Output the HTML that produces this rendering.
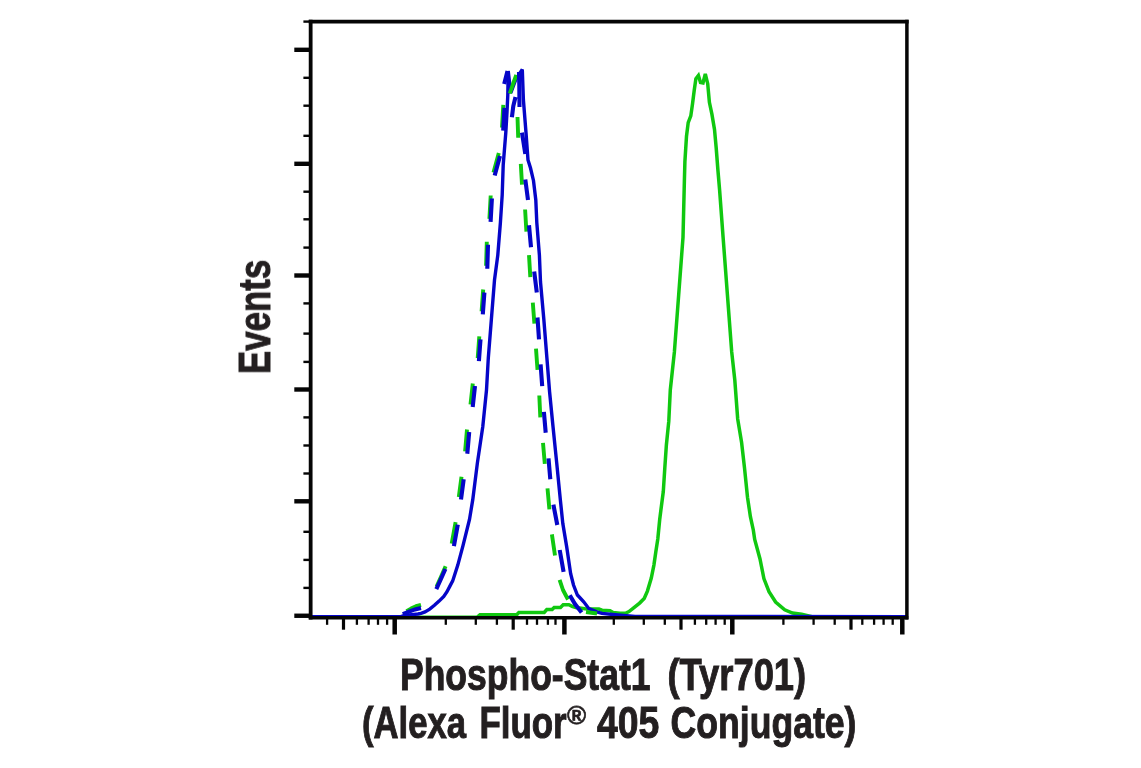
<!DOCTYPE html>
<html><head><meta charset="utf-8">
<style>
html,body{margin:0;padding:0;background:#fff;}
body{width:1141px;height:768px;overflow:hidden;position:relative;}
svg{position:absolute;left:0;top:0;}
.lbl{font-family:"Liberation Sans",sans-serif;font-weight:bold;fill:#231f20;}
</style></head><body>
<svg width="1141" height="768" viewBox="0 0 1141 768">
<path d="M310.0,617.3 L477.0,617.3 L480.0,614.7 L516.8,614.7 L518.9,612.4 L544.2,612.4 L546.8,609.5 L552.1,609.5 L554.2,607.4 L560.5,607.4 L563.2,604.8 L568.9,604.7 L572.1,606.3 L575.8,607.6 L585.0,608.8 L594.7,608.9 L598.9,608.9 L602.0,610.2 L610.0,610.8 L613.1,612.6 L620.0,613.3 L625.5,613.2 L629.0,611.5 L634.3,607.3 L639.6,603.1 L644.2,598.5 L647.4,591.1 L651.3,578.1 L653.9,565.1 L655.8,552.0 L657.8,539.0 L659.7,519.5 L660.9,510.0 L663.3,491.6 L664.8,468.1 L666.4,444.7 L668.8,421.2 L670.3,390.0 L674.4,351.9 L678.7,294.6 L683.0,237.3 L684.4,180.0 L684.9,161.6 L686.5,136.2 L688.2,122.6 L690.8,115.9 L692.5,104.0 L694.2,90.5 L695.9,78.6 L698.4,75.5 L700.5,82.5 L703.0,83.0 L705.3,74.0 L707.7,83.7 L709.4,102.3 L711.9,114.2 L714.5,129.4 L716.2,148.0 L717.9,170.0 L719.6,190.0 L723.1,237.3 L727.4,294.6 L731.7,351.9 L734.8,380.0 L737.7,419.0 L741.6,442.5 L744.5,467.9 L747.5,497.2 L750.4,516.7 L753.3,530.0 L754.7,539.5 L760.0,559.0 L763.9,578.6 L769.0,591.6 L775.6,602.0 L784.7,609.8 L792.5,613.1 L801.6,614.2 L812.0,616.8 L906.0,617.3" fill="none" stroke="#10c810" stroke-width="3.5" stroke-linejoin="miter" stroke-miterlimit="2.6"/>
<path d="M310.0,616.6 L401.0,616.6 L405.0,615.2 L412.0,614.6 L418.0,614.0 L421.0,613.3 L425.0,611.9 L429.7,609.1 L434.4,605.3 L439.1,601.1 L443.8,596.4 L447.0,591.7 L449.9,586.1 L452.7,580.9 L457.8,565.1 L463.0,545.6 L469.5,519.5 L472.8,499.4 L477.4,462.9 L482.8,426.5 L486.5,390.0 L488.3,358.0 L491.4,319.0 L494.5,280.0 L497.8,255.1 L500.4,222.6 L502.2,195.0 L503.2,165.1 L505.8,132.6 L507.0,112.0 L507.8,95.0 L508.2,71.0 L510.8,93.0 L516.0,79.0 L522.3,69.5 L523.4,100.0 L526.0,132.6 L528.0,160.0 L530.5,168.0 L533.5,180.7 L535.8,200.0 L536.8,222.6 L539.4,255.1 L540.5,282.0 L543.8,319.0 L546.9,358.0 L549.6,392.0 L553.0,426.5 L556.7,462.9 L560.3,499.4 L562.8,523.4 L566.7,546.9 L570.6,573.4 L573.5,585.0 L577.4,595.0 L583.7,601.8 L588.9,608.7 L596.8,611.8 L602.0,613.4 L615.2,614.8 L635.0,616.5 L906.0,616.6" fill="none" stroke="#0505c8" stroke-width="3.4" stroke-linejoin="miter" stroke-miterlimit="3"/>
<path d="M406.5,611.2 L411.0,608.6 L416.0,606.2 L421.0,604.8 M436.6,586.5 L440.8,577.3 L445.6,566.3 M451.7,543.7 L455.6,522.2 M458.8,496.9 L461.5,476.8 M465.1,451.3 L467.0,429.5 M470.5,404.5 L472.8,383.5 M477.7,358.2 L479.3,336.4 M481.6,311.4 L483.2,289.5 M486.1,265.8 L486.8,241.7 M489.4,218.9 L490.7,195.5 M493.5,172.5 L498.8,153.0 M502.0,127.6 L503.3,104.8 M509.8,93.5 L513.0,84.0 L516.3,75.0 M517.5,117.0 L518.2,137.8 M520.8,163.8 L522.0,184.6 M525.1,209.5 L526.4,231.7 M529.0,255.1 L530.3,277.2 M532.8,302.7 L534.4,323.7 M536.0,348.7 L537.5,369.8 M539.3,395.5 L540.3,417.3 M543.0,442.9 L544.8,463.8 M547.5,488.4 L549.4,509.4 M551.9,534.4 L555.0,555.5 M559.6,579.8 L563.0,590.0 L568.0,599.5 M586.0,612.0 L597.0,613.5" fill="none" stroke="#10c810" stroke-width="3.9" stroke-linejoin="round"/>
<path d="M402.8,614.2 L409.0,611.6 L415.0,609.4 L421.0,608.0 M436.3,589.2 L440.5,580.0 L445.4,569.0 M453.9,546.2 L457.8,524.7 M461.0,499.4 L463.7,479.3 M467.3,453.8 L469.2,432.0 M472.7,407.0 L475.0,386.0 M478.9,361.2 L480.5,339.4 M482.8,314.4 L484.4,292.5 M487.3,268.8 L488.0,244.7 M490.6,221.9 L491.9,198.5 M494.7,175.5 L500.0,156.0 M503.2,130.6 L504.5,107.8 M504.2,84.0 L507.5,71.0 M511.9,117.2 L513.3,106.0 L515.5,97.0 M519.0,72.0 L519.3,85.0 L519.5,107.0 M522.0,132.6 L525.3,154.0 M525.3,179.4 L528.0,200.0 M529.0,225.2 L531.0,247.3 M534.2,271.4 L536.8,292.5 M537.5,317.5 L539.0,339.4 M540.6,364.4 L542.2,386.2 M543.9,411.9 L545.7,432.8 M548.5,458.4 L550.3,479.3 M553.4,504.7 L557.3,525.0 M559.7,550.0 L563.6,571.9 M569.8,595.3 L575.0,604.0 L581.6,612.5" fill="none" stroke="#0505c8" stroke-width="4.1" stroke-linejoin="miter"/>
<line x1="308.8" y1="21.65" x2="908.6" y2="21.65" stroke="#050505" stroke-width="3.7"/>
<line x1="303.4" y1="21.6" x2="310" y2="21.6" stroke="#050505" stroke-width="2.4"/>
<line x1="310.65" y1="19.8" x2="310.65" y2="619.5" stroke="#050505" stroke-width="3.8"/>
<line x1="906.9" y1="19.8" x2="906.9" y2="619.5" stroke="#050505" stroke-width="3.5"/>
<line x1="308.75" y1="617.7" x2="908.3" y2="617.7" stroke="#050505" stroke-width="3.6"/>
<line x1="294.3" y1="49.80" x2="310" y2="49.80" stroke="#050505" stroke-width="4.4"/>
<line x1="303.4" y1="77.80" x2="310" y2="77.80" stroke="#050505" stroke-width="2.4"/>
<line x1="303.4" y1="105.70" x2="310" y2="105.70" stroke="#050505" stroke-width="2.4"/>
<line x1="303.4" y1="135.80" x2="310" y2="135.80" stroke="#050505" stroke-width="2.4"/>
<line x1="294.3" y1="163.80" x2="310" y2="163.80" stroke="#050505" stroke-width="4.4"/>
<line x1="303.4" y1="191.70" x2="310" y2="191.70" stroke="#050505" stroke-width="2.4"/>
<line x1="303.4" y1="219.30" x2="310" y2="219.30" stroke="#050505" stroke-width="2.4"/>
<line x1="303.4" y1="247.60" x2="310" y2="247.60" stroke="#050505" stroke-width="2.4"/>
<line x1="294.3" y1="275.50" x2="310" y2="275.50" stroke="#050505" stroke-width="4.4"/>
<line x1="303.4" y1="303.40" x2="310" y2="303.40" stroke="#050505" stroke-width="2.4"/>
<line x1="303.4" y1="333.60" x2="310" y2="333.60" stroke="#050505" stroke-width="2.4"/>
<line x1="303.4" y1="361.90" x2="310" y2="361.90" stroke="#050505" stroke-width="2.4"/>
<line x1="294.3" y1="389.50" x2="310" y2="389.50" stroke="#050505" stroke-width="4.4"/>
<line x1="303.4" y1="417.40" x2="310" y2="417.40" stroke="#050505" stroke-width="2.4"/>
<line x1="303.4" y1="445.50" x2="310" y2="445.50" stroke="#050505" stroke-width="2.4"/>
<line x1="303.4" y1="473.50" x2="310" y2="473.50" stroke="#050505" stroke-width="2.4"/>
<line x1="294.3" y1="501.30" x2="310" y2="501.30" stroke="#050505" stroke-width="4.4"/>
<line x1="303.4" y1="531.80" x2="310" y2="531.80" stroke="#050505" stroke-width="2.4"/>
<line x1="303.4" y1="559.90" x2="310" y2="559.90" stroke="#050505" stroke-width="2.4"/>
<line x1="303.4" y1="587.90" x2="310" y2="587.90" stroke="#050505" stroke-width="2.4"/>
<line x1="294.3" y1="615.75" x2="310" y2="615.75" stroke="#050505" stroke-width="4.4"/>
<line x1="394.7" y1="617" x2="394.7" y2="634.5" stroke="#050505" stroke-width="4.5"/>
<line x1="564.4" y1="617" x2="564.4" y2="634.5" stroke="#050505" stroke-width="4.5"/>
<line x1="732.3" y1="617" x2="732.3" y2="634.5" stroke="#050505" stroke-width="4.5"/>
<line x1="902.3" y1="617" x2="902.3" y2="634.5" stroke="#050505" stroke-width="4.5"/>
<line x1="343.5" y1="617" x2="343.5" y2="629.7" stroke="#050505" stroke-width="3.2"/>
<line x1="513.2" y1="617" x2="513.2" y2="629.7" stroke="#050505" stroke-width="3.2"/>
<line x1="681.0" y1="617" x2="681.0" y2="629.7" stroke="#050505" stroke-width="3.2"/>
<line x1="851.0" y1="617" x2="851.0" y2="629.7" stroke="#050505" stroke-width="3.2"/>
<line x1="327.1" y1="617" x2="327.1" y2="624.8" stroke="#050505" stroke-width="2.3"/>
<line x1="356.9" y1="617" x2="356.9" y2="624.8" stroke="#050505" stroke-width="2.3"/>
<line x1="368.6" y1="617" x2="368.6" y2="624.8" stroke="#050505" stroke-width="2.3"/>
<line x1="378.0" y1="617" x2="378.0" y2="624.8" stroke="#050505" stroke-width="2.3"/>
<line x1="387.1" y1="617" x2="387.1" y2="624.8" stroke="#050505" stroke-width="2.3"/>
<line x1="445.8" y1="617" x2="445.8" y2="624.8" stroke="#050505" stroke-width="2.3"/>
<line x1="475.8" y1="617" x2="475.8" y2="624.8" stroke="#050505" stroke-width="2.3"/>
<line x1="496.9" y1="617" x2="496.9" y2="624.8" stroke="#050505" stroke-width="2.3"/>
<line x1="527.0" y1="617" x2="527.0" y2="624.8" stroke="#050505" stroke-width="2.3"/>
<line x1="537.0" y1="617" x2="537.0" y2="624.8" stroke="#050505" stroke-width="2.3"/>
<line x1="547.9" y1="617" x2="547.9" y2="624.8" stroke="#050505" stroke-width="2.3"/>
<line x1="555.5" y1="617" x2="555.5" y2="624.8" stroke="#050505" stroke-width="2.3"/>
<line x1="613.8" y1="617" x2="613.8" y2="624.8" stroke="#050505" stroke-width="2.3"/>
<line x1="643.8" y1="617" x2="643.8" y2="624.8" stroke="#050505" stroke-width="2.3"/>
<line x1="664.8" y1="617" x2="664.8" y2="624.8" stroke="#050505" stroke-width="2.3"/>
<line x1="694.9" y1="617" x2="694.9" y2="624.8" stroke="#050505" stroke-width="2.3"/>
<line x1="706.2" y1="617" x2="706.2" y2="624.8" stroke="#050505" stroke-width="2.3"/>
<line x1="715.6" y1="617" x2="715.6" y2="624.8" stroke="#050505" stroke-width="2.3"/>
<line x1="724.7" y1="617" x2="724.7" y2="624.8" stroke="#050505" stroke-width="2.3"/>
<line x1="783.4" y1="617" x2="783.4" y2="624.8" stroke="#050505" stroke-width="2.3"/>
<line x1="813.6" y1="617" x2="813.6" y2="624.8" stroke="#050505" stroke-width="2.3"/>
<line x1="834.7" y1="617" x2="834.7" y2="624.8" stroke="#050505" stroke-width="2.3"/>
<line x1="862.3" y1="617" x2="862.3" y2="624.8" stroke="#050505" stroke-width="2.3"/>
<line x1="874.1" y1="617" x2="874.1" y2="624.8" stroke="#050505" stroke-width="2.3"/>
<line x1="883.6" y1="617" x2="883.6" y2="624.8" stroke="#050505" stroke-width="2.3"/>
<line x1="892.7" y1="617" x2="892.7" y2="624.8" stroke="#050505" stroke-width="2.3"/>
<g class="lbl" font-size="44.6" stroke="#231f20" stroke-width="1" style="will-change:transform">
<text transform="translate(400,690) scale(0.7961,1)">Phospho-Stat1</text>
<text transform="translate(667.4,690) scale(0.8157,1)">(Tyr701)</text>
<text transform="translate(362,738) scale(0.7775,1)">(Alexa</text>
<text transform="translate(479.4,738) scale(0.7834,1)">Fluor</text>
<text transform="translate(597,738) scale(0.8378,1)">405</text>
<text transform="translate(670.6,738) scale(0.7983,1)">Conjugate)</text>
<text transform="translate(270,374) rotate(-90) scale(0.7817,1)">Events</text>
</g>
<text class="lbl" font-size="26" stroke="#231f20" stroke-width="0.6" style="will-change:transform" transform="translate(567,724)">®</text>
</svg>
</body></html>
